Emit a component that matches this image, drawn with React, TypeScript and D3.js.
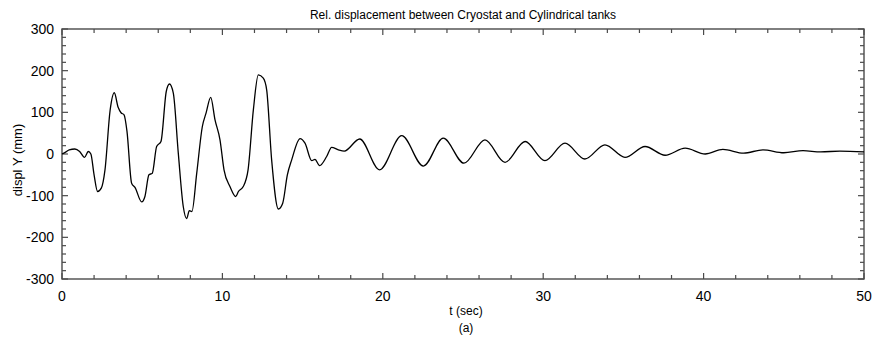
import React from "react";
import * as d3 from "d3";

const W = 873;
const H = 342;

const title = "Rel. displacement between Cryostat and Cylindrical tanks";
const xLabel = "t (sec)";
const subLabel = "(a)";
const yLabel = "displ Y (mm)";

const xTicks = [0, 10, 20, 30, 40, 50];
const yTicks = [-300, -200, -100, 0, 100, 200, 300];

const timeSec = [
  0, 0.25, 0.45, 0.8, 1.1, 1.4, 1.64, 1.8, 2.0, 2.22, 2.45, 2.68, 3.0, 3.26, 3.5, 3.68, 3.87, 4.05,
  4.34, 4.55, 4.97, 5.17, 5.42, 5.63, 5.9, 6.17, 6.5, 6.7, 6.94, 7.25, 7.56, 7.77, 7.94, 8.1, 8.4,
  8.75, 8.98, 9.27, 9.54, 9.85, 10.1, 10.47, 10.83, 11.0, 11.3, 11.6, 11.93, 12.24, 12.55, 12.76,
  13.07, 13.49, 13.76, 14.05, 14.32, 14.84, 15.15, 15.57, 15.77, 16.06, 16.5, 16.81, 17.23, 17.6,
  18.56, 19.8, 21.18, 22.53, 23.77, 25.06, 26.37, 27.62, 28.87, 30.11, 31.36, 32.6, 33.85, 35.1,
  36.35, 37.6, 38.85, 40.1, 41.2, 42.5, 43.7, 45.0, 46.2, 47.3, 48.5, 50,
];

const displY = [
  0, 5, 10, 12, 6, -8, 6, 0, -50, -90, -82, -38, 105, 147, 112, 99, 94, 55,
  -70, -80, -115, -102, -50, -46, 18, 30, 150, 168, 146, 2, -126, -155, -136, -138, -46,
  66, 98, 136, 82, 34, -38, -78, -102, -90, -78, -38, 106, 190, 182, 154,
  -14, -132, -118, -50, -14, 37, 26, -16, -13, -28, -6, 16, 10, 7,
  36, -38, 44, -29, 38, -22, 34, -20, 30, -16, 26, -12, 22, -8,
  18, -3, 14, 0, 11, 2, 10, 3, 8, 5, 7, 5,
];

export default function App() {
  const left = 62, right = 864, top = 29, bottom = 279;
  const x = d3.scaleLinear().domain([0, 50]).range([left, right]);
  const y = d3.scaleLinear().domain([-300, 300]).range([bottom, top]);

  const pts: [number, number][] = timeSec.map((t, i) => [t, displY[i]]);
  const line = d3
    .line<[number, number]>()
    .x((d) => x(d[0]))
    .y((d) => y(d[1]))
    .curve(d3.curveMonotoneX);

  const axisColor = "#4a4a4a";
  const xMinor = d3.range(0, 50.001, 2);
  const yMinor = d3.range(-300, 300.001, 20);
  const font = "'Liberation Sans', Arial, sans-serif";

  return (
    <svg
      width={W}
      height={H}
      style={{ position: "absolute", left: 0, top: 0, background: "#fff" }}
      fontFamily={font}
    >
      <rect x={0} y={0} width={W} height={H} fill="#fff" />
      <text x={463} y={19} textAnchor="middle" fontSize={12} fill="#000">
        {title}
      </text>

      {/* ticks */}
      {xMinor.map((v) => {
        const major = v % 10 === 0;
        const len = major ? 6 : 4;
        return (
          <g key={"xt" + v} stroke={axisColor} strokeWidth={1.2}>
            <line x1={x(v)} x2={x(v)} y1={bottom} y2={bottom - len} />
            <line x1={x(v)} x2={x(v)} y1={top} y2={top + len} />
          </g>
        );
      })}
      {yMinor.map((v) => {
        const major = Math.round(v) % 100 === 0;
        const len = major ? 6 : 4;
        return (
          <g key={"yt" + v} stroke={axisColor} strokeWidth={1.2}>
            <line x1={left} x2={left + len} y1={y(v)} y2={y(v)} />
            <line x1={right} x2={right - len} y1={y(v)} y2={y(v)} />
          </g>
        );
      })}

      <rect
        x={left}
        y={top}
        width={right - left}
        height={bottom - top}
        fill="none"
        stroke={axisColor}
        strokeWidth={1.4}
      />

      <path d={line(pts) || ""} fill="none" stroke="#000" strokeWidth={1.3} strokeLinejoin="round" />

      {xTicks.map((v) => (
        <text key={"xl" + v} x={x(v)} y={301} textAnchor="middle" fontSize={14} fill="#000">
          {v}
        </text>
      ))}
      {yTicks.map((v) => (
        <text key={"yl" + v} x={54} y={y(v)} dy="0.36em" textAnchor="end" fontSize={14} fill="#000">
          {v}
        </text>
      ))}

      <text x={466} y={315} textAnchor="middle" fontSize={12} fill="#000">
        {xLabel}
      </text>
      <text x={466} y={332} textAnchor="middle" fontSize={12} fill="#000">
        {subLabel}
      </text>
      <text
        transform={`translate(22,160) rotate(-90)`}
        textAnchor="middle"
        fontSize={13}
        fill="#000"
      >
        {yLabel}
      </text>
    </svg>
  );
}
